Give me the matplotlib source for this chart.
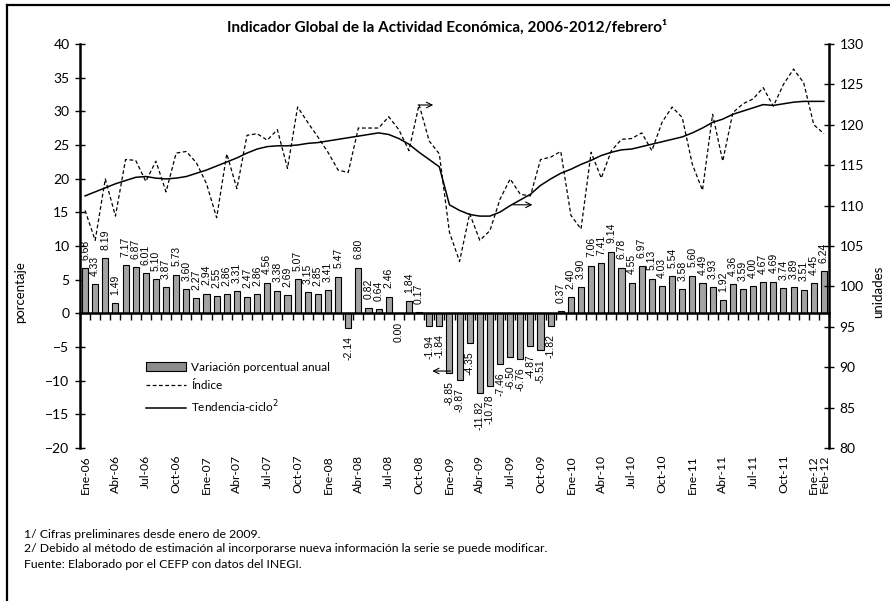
import numpy as np
import matplotlib
matplotlib.use("Agg")
import matplotlib.pyplot as plt
from matplotlib.lines import Line2D
from matplotlib.patches import Patch

# monthly series Ene-06 .. Feb-12
meses = ["Ene", "Feb", "Mar", "Abr", "May", "Jun", "Jul", "Ago", "Sep", "Oct", "Nov", "Dic"]
periodos = [f"{m}-{a:02d}" for a in range(6, 13) for m in meses][:74]

variacion = [
    6.68, 4.33, 8.19, 1.49, 7.17, 6.87, 6.01, 5.10, 3.87, 5.73, 3.60, 2.27,
    2.94, 2.55, 2.86, 3.31, 2.47, 2.86, 4.56, 3.38, 2.69, 5.07, 3.15, 2.85,
    3.41, 5.47, -2.14, 6.80, 0.82, 0.64, 2.46, 0.00, 1.84, 0.17, -1.94, -1.84,
    -8.85, -9.87, -4.35, -11.82, -10.78, -7.46, -6.50, -6.76, -4.87, -5.51, -1.82, 0.37,
    2.40, 3.90, 7.06, 7.41, 9.14, 6.78, 4.55, 6.97, 5.13, 4.03, 5.54, 3.58,
    5.60, 4.49, 3.93, 1.92, 4.36, 3.59, 4.00, 4.67, 4.69, 3.74, 3.89, 3.51,
    4.45, 6.24,
]

indice = [
    109.4, 105.7, 113.3, 108.7, 115.7, 115.6, 113.0, 115.5, 111.7, 116.5, 116.7, 115.3,
    112.7, 108.5, 116.4, 112.1, 118.7, 118.9, 118.1, 119.4, 114.6, 122.2, 120.3, 118.5,
    116.6, 114.4, 114.1, 119.6, 119.6, 119.6, 121.0, 119.4, 116.8, 122.5, 118.0, 116.4,
    106.7, 103.1, 109.0, 105.7, 106.9, 110.8, 113.3, 111.4, 111.2, 115.7, 116.0, 116.7,
    108.8, 107.1, 116.6, 113.4, 116.8, 118.2, 118.3, 119.0, 116.8, 120.3, 122.2, 120.9,
    115.1, 111.9, 121.3, 115.5, 121.5, 122.6, 123.2, 124.6, 122.3, 125.0, 126.9, 125.2,
    120.0, 118.9,
]

tendencia = [
    111.2, 111.7, 112.2, 112.7, 113.1, 113.5, 113.6, 113.4, 113.3, 113.4, 113.6, 114.0,
    114.4, 114.9, 115.4, 115.9, 116.5, 117.0, 117.3, 117.4, 117.4, 117.5, 117.7, 117.8,
    118.0, 118.2, 118.4, 118.6, 118.8, 119.0, 118.8, 118.3, 117.6, 116.6, 115.7, 114.8,
    110.1, 109.4, 108.9, 108.7, 108.7, 109.2, 110.0, 110.7, 111.4, 112.5, 113.3, 114.0,
    114.5, 115.1, 115.6, 116.2, 116.6, 116.9, 117.0, 117.3, 117.6, 117.9, 118.2, 118.5,
    119.0, 119.6, 120.3, 120.7, 121.3, 121.7, 122.1, 122.5, 122.4, 122.6, 122.8, 122.9,
    122.9, 122.9,
]

etiquetas_idx = list(range(0, 74, 3)) + [73]

titulo = "Indicador Global de la Actividad Económica, 2006-2012/febrero¹"
notas = [
    "1/ Cifras preliminares desde enero de 2009.",
    "2/ Debido al método de estimación al incorporarse nueva información la serie se puede modificar.",
    "Fuente: Elaborado por el CEFP con datos del INEGI.",
]

plt.rcParams["font.family"] = ["Lato", "DejaVu Sans"]

W, H = 890, 601
fig = plt.figure(figsize=(W / 100, H / 100), dpi=100)
ax = fig.add_axes([80 / W, 1 - 448 / H, 749 / W, 404 / H])
ax2 = ax.twinx()

x = np.arange(len(variacion))
ax.bar(x, variacion, width=0.6, color="#a3a3a3", edgecolor="black", linewidth=0.8, zorder=2)

for xi, v in zip(x, variacion):
    if v > 0:
        ax.annotate(f"{v:.2f}", (xi, v), xytext=(0, 6), textcoords="offset points",
                    rotation=90, ha="center", va="bottom", fontsize=7.5,
                    family="Liberation Sans")
    else:
        ax.annotate(f"{v:.2f}", (xi, v), xytext=(0, -6), textcoords="offset points",
                    rotation=90, ha="center", va="top", fontsize=7.5,
                    family="Liberation Sans")

ax2.plot(x, indice, color="black", lw=0.9, ls=(0, (3, 2)))
ax2.plot(x, tendencia, color="black", lw=1.1)

# arrows pointing to the axis each series belongs to
arr = dict(arrowstyle="->", lw=0.8, color="black", shrinkA=0, shrinkB=0)
ax2.annotate("", xy=(34.4, 122.45), xytext=(32.9, 122.45), arrowprops=arr)
ax2.annotate("", xy=(44.2, 110.1), xytext=(42.3, 110.1), arrowprops=arr)
ax.annotate("", xy=(34.3, -8.57), xytext=(36.1, -8.57), arrowprops=arr)

ax.set_xlim(-0.5, len(variacion) - 0.5)
ax.set_ylim(-20, 40)
ax.set_yticks(np.arange(-20, 41, 5))
ax2.set_ylim(80, 130)
ax2.set_yticks(np.arange(80, 131, 5))

for s in ["top", "right"]:
    ax.spines[s].set_visible(False)
for s in ["top", "left", "bottom"]:
    ax2.spines[s].set_visible(False)
ax.spines["bottom"].set_position(("data", 0))
ax.spines["bottom"].set_linewidth(1.8)
ax.spines["left"].set_linewidth(1.8)
ax2.spines["right"].set_linewidth(1.8)

ax.set_xticks(np.arange(-0.5, len(variacion), 1))
ax.set_xticklabels([])
ax.tick_params(axis="x", direction="out", length=5, width=1)
ax.tick_params(axis="y", direction="inout", length=7, width=1, labelsize=10, pad=4)
ax2.tick_params(axis="y", direction="inout", length=7, width=1, labelsize=10, pad=4)

sec = ax.secondary_xaxis("bottom")
sec.set_xticks(etiquetas_idx, [periodos[i] for i in etiquetas_idx], rotation=90)
sec.tick_params(length=0, labelsize=8.7, pad=5)
sec.spines["bottom"].set_visible(False)

handles = [
    Patch(facecolor="#8c8c8c", edgecolor="black", linewidth=0.8),
    Line2D([], [], color="black", lw=0.9, ls=(0, (3, 2))),
    Line2D([], [], color="black", lw=1.1),
]
labels = ["Variación porcentual anual", "Índice", "Tendencia-ciclo$^{2}$"]
ax2.legend(handles, labels, loc="upper left", bbox_to_anchor=(146 / W, 1 - 362 / H),
           bbox_transform=fig.transFigure, frameon=False, fontsize=8.5,
           handlelength=3.4, handleheight=0.8, handletextpad=0.4,
           labelspacing=0.6, borderpad=0, borderaxespad=0)

fig.text(0.502, 1 - 27 / H, titulo, ha="center", va="center", fontsize=11, weight="bold")
fig.text(20 / W, 1 - 292 / H, "porcentaje", rotation=90, ha="center", va="center", fontsize=9.5)
fig.text(878 / W, 1 - 292 / H, "unidades", rotation=90, ha="center", va="center", fontsize=9.5)
for k, nota in enumerate(notas):
    fig.text(24 / W, 1 - (534 + 15 * k) / H, nota, ha="left", va="center", fontsize=8.8)

# frame around the figure (left and top edges visible)
fig.add_artist(Line2D([7 / W, 7 / W], [0, 1 - 5 / H], color="black", lw=1.6,
                      transform=fig.transFigure))
fig.add_artist(Line2D([7 / W, 1], [1 - 5 / H, 1 - 5 / H], color="black", lw=1.6,
                      transform=fig.transFigure))

fig.savefig("out.png", dpi=100)
